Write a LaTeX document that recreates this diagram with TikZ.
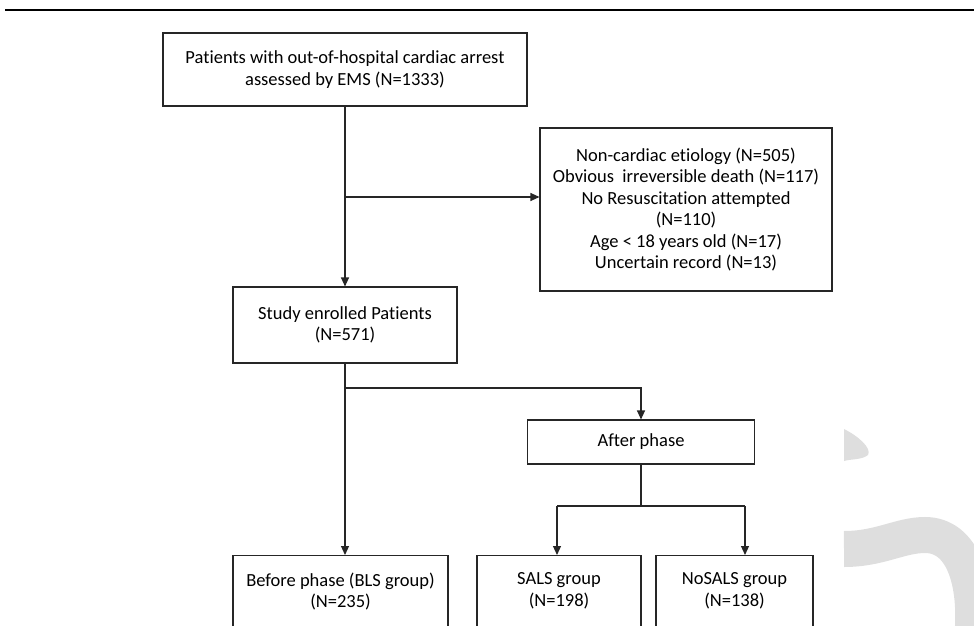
\documentclass[tikz,border=0pt]{standalone}
\usepackage{fontspec}
\setmainfont{Carlito}[Ligatures=NoCommon]
\usetikzlibrary{arrows.meta}

\newcommand{\flowfont}{\fontsize{18.5}{21.5}\selectfont}

\tikzset{
  box/.style={draw=black!85, line width=1.1pt, align=center, font=\flowfont, inner sep=0pt},
  group/.style={box, anchor=north, minimum width=#1, inner ysep=17pt, text depth=80pt},
  link/.style={draw=black!85, line width=1.1pt},
  arr/.style={link, -{Triangle[length=9pt,width=8pt]}},
  wmark/.style={fill=black!13, draw=none},
}

\begin{document}
\begin{tikzpicture}[x=1pt,y=-1pt]
    \useasboundingbox (0,0) rectangle (974,626);
    \clip (0,0) rectangle (974,626);

    % rule across the top
    \draw [line width=2pt] (5,10) -- (974,10);

    % watermark
    \fill [wmark] (844,429) .. controls (858,436) and (872,448) .. (868,455)
        .. controls (862,460) and (850,459) .. (844,461) -- cycle;
    \draw [black!13, line width=36pt] (844,549) .. controls (880,549) and (900,535) .. (925,535)
        .. controls (962,535) and (978,580) .. (972,640);

    \node [box, minimum width=364, minimum height=73] (patients) at (345,69.5)
        {Patients with out-of-hospital cardiac arrest\\assessed by EMS (N=1333)};
    \node [box, minimum width=292, minimum height=163] (excluded) at (686,209.5)
        {Non-cardiac etiology (N=505)\\Obvious\ \ irreversible death (N=117)\\No Resuscitation attempted\\(N=110)\\Age < 18 years old (N=17)\\Uncertain record (N=13)};
    \node [box, minimum width=224, minimum height=76] (enrolled) at (345,325)
        {Study enrolled Patients\\(N=571)};
    \node [box, minimum width=227, minimum height=44] (after) at (641,442)
        {After phase};
    \node [group=215] (before) at (340.5,555) {Before phase (BLS group)\\(N=235)};
    \node [group=164] (sals) at (559,555) {SALS group\\(N=198)};
    \node [group=157] (nosals) at (734.5,555) {NoSALS group\\(N=138)};

    \coordinate (split1) at (345,197);
    \coordinate (split2) at (345,388);
    \coordinate (split3) at (641,506);
    \coordinate (sdrop) at (557,506);
    \coordinate (ndrop) at (745,506);

    \draw [arr] (patients) -- (enrolled);
    \draw [arr] (split1) -- (split1 -| excluded.west);
    \draw [arr] (enrolled.south) -- (enrolled.south |- before.north);
    \draw [arr] (split2) -| (after.north);
    \draw [link] (after.south) -- (split3);
    \draw [link] (sdrop) -- (ndrop);
    \draw [arr] (sdrop) -- (sdrop |- sals.north);
    \draw [arr] (ndrop) -- (ndrop |- nosals.north);
\end{tikzpicture}
\end{document}
